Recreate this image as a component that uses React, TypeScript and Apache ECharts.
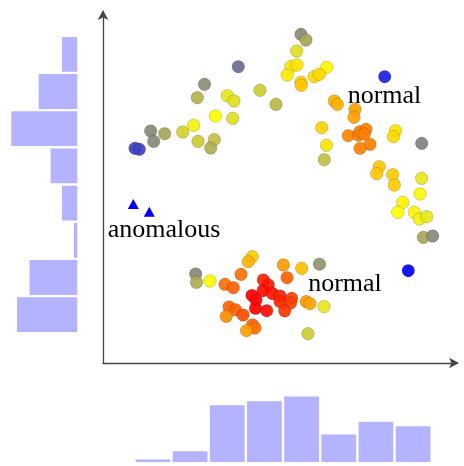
import React, { useEffect, useRef } from "react";
import * as echarts from "echarts";

// [x, y, score] – score drives the colour map (0 blue → 1 gray → 2 yellow → 3 red)
const upperArc: number[][] = [
  [32.0, 214.7, 0.5], [36.3, 213.7, 0.5], [47.7, 232.0, 1.07], [50.7, 221.7, 1.07],
  [61.7, 229.3, 1.3], [79.7, 231.0, 1.65], [90.7, 237.7, 1.9], [95.0, 221.7, 1.6],
  [111.3, 223.3, 1.5], [107.7, 215.0, 1.35], [112.3, 247.0, 2.0], [129.7, 244.7, 1.75],
  [124.3, 267.3, 1.8], [131.0, 262.0, 1.75], [94.3, 265.3, 1.4], [101.5, 278.7, 1.1],
  [135.3, 296.3, 0.85], [157.0, 272.7, 1.6], [173.0, 258.7, 1.45], [198.0, 328.7, 1.07],
  [203.0, 323.0, 1.3], [193.7, 312.0, 1.75], [187.8, 296.3, 2.1], [194.0, 298.0, 2.1],
  [184.3, 288.0, 2.08], [198.0, 280.7, 2.2], [198.2, 277.7, 2.22], [223.7, 295.7, 2.03],
  [211.3, 286.3, 2.15], [216.3, 288.7, 2.15],
];

const rightArc: number[][] = [
  [231.3, 262.0, 2.3], [234.3, 258.7, 2.3], [252.0, 253.7, 2.37], [251.0, 245.7, 2.37],
  [218.7, 235.3, 2.18], [223.5, 217.7, 2.1], [221.3, 203.3, 1.5], [245.3, 227.3, 2.47],
  [255.3, 228.0, 2.5], [257.0, 231.3, 2.5], [263.0, 233.7, 2.5], [261.3, 229.0, 2.5],
  [267.0, 218.7, 2.5], [257.0, 214.7, 2.5], [292.5, 232.3, 2.1], [290.3, 226.3, 2.15],
  [318.7, 219.7, 1.0], [281.7, 286.3, 0.25], [276.2, 196.3, 2.22], [273.7, 189.3, 2.22],
  [289.7, 188.3, 2.2], [291.3, 178.0, 2.2], [318.7, 184.7, 1.8], [317.0, 169.0, 1.95],
  [299.7, 160.7, 2.05], [294.7, 150.7, 2.0], [311.3, 150.7, 2.05], [316.3, 144.0, 1.9],
  [323.7, 146.3, 1.8], [320.3, 125.7, 1.3], [329.7, 127.0, 1.07], [305.3, 92.3, 0.0],
];

const lowerCluster: number[][] = [
  [149.3, 106.3, 2.2], [145.3, 101.3, 2.3], [92.7, 89.0, 1.07], [93.5, 80.7, 1.35],
  [107.0, 82.0, 2.03], [138.0, 88.7, 2.56], [122.0, 78.7, 2.56], [130.3, 75.3, 2.62],
  [160.3, 83.0, 2.87], [165.3, 78.0, 2.9], [180.3, 98.0, 2.4], [184.0, 85.3, 2.62],
  [198.7, 94.7, 2.25], [216.5, 98.8, 1.15], [160.0, 72.3, 2.95], [169.3, 69.5, 2.92],
  [149.0, 67.5, 3.0], [153.0, 63.0, 3.0], [177.0, 67.0, 2.87], [188.7, 64.7, 2.75],
  [187.5, 60.0, 2.75], [177.0, 61.3, 2.85], [152.5, 54.7, 3.0], [163.7, 52.3, 2.95],
  [181.7, 52.2, 2.8], [126.0, 56.0, 2.6], [132.3, 53.3, 2.62], [123.3, 46.7, 2.45],
  [140.0, 48.0, 2.7], [149.5, 38.0, 2.6], [152.0, 35.0, 2.55], [143.5, 32.3, 2.38],
  [203.2, 61.4, 2.4], [207.0, 59.3, 2.35], [221.0, 56.3, 1.8], [205.0, 29.3, 1.6],
];

const anomalous: number[][] = [
  [30.3, 159.0], [46.3, 151.3],
];

const leftBins = ["b1", "b2", "b3", "b4", "b5", "b6", "b7", "b8"];
const leftCounts = [3.1, 7.2, 12.0, 5.1, 3.1, 1.0, 8.8, 11.0];

const bottomBins = ["c1", "c2", "c3", "c4", "c5", "c6", "c7", "c8"];
const bottomCounts = [1.0, 2.7, 12.1, 12.9, 13.9, 6.1, 8.7, 7.8];

const labels = [
  { text: "normal", x: 384.5, y: 94 },
  { text: "anomalous", x: 164, y: 228 },
  { text: "normal", x: 345, y: 282 },
];

const scoreColors = ["#0000ff", "#808080", "#ffff00", "#ff0000"];

export default function App() {
  const ref = useRef<HTMLDivElement>(null);

  useEffect(() => {
    if (!ref.current) return;
    const chart = echarts.init(ref.current, null, { renderer: "svg" });
    const serif = '"Liberation Serif", "Times New Roman", serif';
    const axisColor = "#444";
    const barStyle = { color: "#b3b3ff", borderColor: "#ffffff", borderWidth: 1.2 };
    const pointStyle = { opacity: 0.92, borderColor: "rgba(0,0,0,0.18)", borderWidth: 1 };

    chart.setOption({
      animation: false,
      grid: [
        { left: 103, top: 13, width: 353, height: 350 },
        { left: 10.1, top: 35.7, width: 68.4, height: 297.6 },
        { left: 134.3, top: 394.7, width: 297.4, height: 68.6 },
      ],
      xAxis: [
        {
          gridIndex: 0, type: "value", min: 0, max: 353,
          axisLine: {
            show: true, lineStyle: { color: axisColor, width: 1.3 },
            symbol: ["none", "arrow"], symbolSize: [8, 10], symbolOffset: [0, 3],
          },
          axisTick: { show: false }, axisLabel: { show: false }, splitLine: { show: false },
        },
        { gridIndex: 1, type: "value", min: 0, max: 12, inverse: true, show: false },
        { gridIndex: 2, type: "category", data: bottomBins, show: false },
      ],
      yAxis: [
        {
          gridIndex: 0, type: "value", min: 0, max: 350,
          axisLine: {
            show: true, lineStyle: { color: axisColor, width: 1.3 },
            symbol: ["none", "arrow"], symbolSize: [8, 10], symbolOffset: [0, 3],
          },
          axisTick: { show: false }, axisLabel: { show: false }, splitLine: { show: false },
        },
        { gridIndex: 1, type: "category", data: leftBins, inverse: true, show: false },
        { gridIndex: 2, type: "value", min: 0, max: 14, show: false },
      ],
      visualMap: {
        show: false,
        type: "continuous",
        seriesIndex: [0, 1, 2],
        dimension: 2,
        min: 0,
        max: 3,
        inRange: { color: scoreColors },
      },
      series: [
        { type: "scatter", xAxisIndex: 0, yAxisIndex: 0, data: upperArc, symbolSize: 12.5, itemStyle: pointStyle },
        { type: "scatter", xAxisIndex: 0, yAxisIndex: 0, data: rightArc, symbolSize: 12.5, itemStyle: pointStyle },
        { type: "scatter", xAxisIndex: 0, yAxisIndex: 0, data: lowerCluster, symbolSize: 12.5, itemStyle: pointStyle },
        {
          type: "scatter", xAxisIndex: 0, yAxisIndex: 0, data: anomalous,
          symbol: "triangle", symbolSize: [11, 10], itemStyle: { color: "#0000ff", opacity: 1 },
        },
        {
          type: "bar", xAxisIndex: 1, yAxisIndex: 1, data: leftCounts,
          barCategoryGap: "0%", itemStyle: barStyle,
        },
        {
          type: "bar", xAxisIndex: 2, yAxisIndex: 2, data: bottomCounts,
          barCategoryGap: "0%", itemStyle: barStyle,
        },
      ],
      graphic: labels.map((l) => ({
        type: "text",
        x: l.x,
        y: l.y,
        style: {
          text: l.text,
          fontFamily: serif,
          fontSize: 26,
          fill: "#000",
          align: "center",
          verticalAlign: "middle",
        },
      })),
    });
    return () => chart.dispose();
  }, []);

  return (
    <div
      ref={ref}
      style={{ position: "fixed", left: 0, top: 0, width: 464, height: 466 }}
    />
  );
}
